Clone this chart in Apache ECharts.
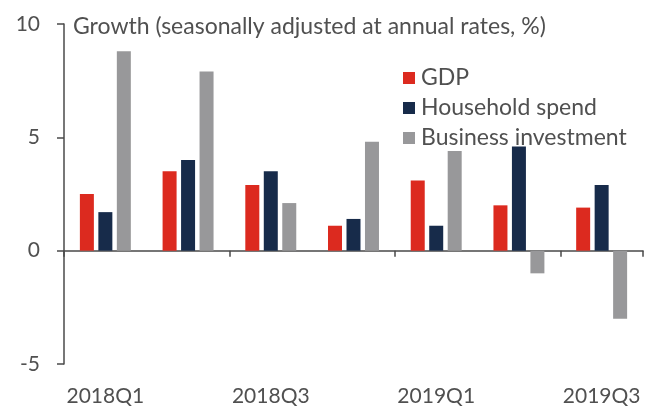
<!DOCTYPE html>
<html><head><meta charset="utf-8">
<script src="https://cdn.jsdelivr.net/npm/echarts@6/dist/echarts.min.js"></script>
<style>html,body{margin:0;padding:0;background:#fff}#c{width:654px;height:407px}</style>
</head><body><div id="c"></div>
<script>
const categories = ['2018Q1','2018Q2','2018Q3','2018Q4','2019Q1','2019Q2','2019Q3'];
const gdp = [2.5, 3.5, 2.9, 1.1, 3.1, 2.0, 1.9];
const household = [1.7, 4.0, 3.5, 1.4, 1.1, 4.6, 2.9];
const business = [8.8, 7.9, 2.1, 4.8, 4.4, -1.0, -3.0];
const seriesNames = ['GDP', 'Household spend', 'Business investment'];
const titleText = 'Growth (seasonally adjusted at annual rates, %)';

const FONT = 'Lato';
const TXT = '#505050';
const AX = '#4a4a4a';
const chart = echarts.init(document.getElementById('c'), null, {renderer: 'canvas'});
chart.setOption({
  animation: false,
  textStyle: {fontFamily: FONT},
  title: {text: titleText, left: 73, top: 15, padding: 0,
    textStyle: {fontFamily: FONT, fontSize: 23, lineHeight: 23, fontWeight: 'normal', color: TXT}},
  legend: {
    orient: 'vertical', left: 403, top: 64, padding: 0, itemWidth: 12, itemHeight: 12, itemGap: 2, icon: 'rect',
    textStyle: {fontFamily: FONT, fontSize: 23, color: TXT, lineHeight: 23, padding: [0, 0, 5, 1]},
    data: seriesNames
  },
  grid: {left: 64, right: 11, top: 24, bottom: 41, containLabel: false},
  xAxis: [
    {type: 'category', data: categories, boundaryGap: true,
     axisLine: {onZero: true, lineStyle: {color: AX, width: 1.5}},
     axisTick: {show: true, interval: 1, length: 6, lineStyle: {color: AX, width: 1.5}},
     axisLabel: {show: false}, splitLine: {show: false}},
    {type: 'category', data: categories, position: 'bottom', boundaryGap: true,
     axisLine: {show: false, onZero: false}, axisTick: {show: false},
     axisLabel: {show: true, interval: 1, margin: 22, fontFamily: FONT, fontSize: 21, color: TXT}, splitLine: {show: false}}
  ],
  yAxis: {type: 'value', min: -5, max: 10, interval: 5,
    axisLine: {show: true, lineStyle: {color: AX, width: 1.5}},
    axisTick: {show: true, length: 7, lineStyle: {color: AX, width: 1.5}},
    axisLabel: {margin: 24, fontFamily: FONT, fontSize: 21, color: TXT},
    splitLine: {show: false}},
  series: [
    {name: seriesNames[0], type: 'bar', data: gdp, barWidth: 14, barGap: '32%', itemStyle: {color: '#dc2a1f'}},
    {name: seriesNames[1], type: 'bar', data: household, barWidth: 14, barGap: '32%', itemStyle: {color: '#172b4a'}},
    {name: seriesNames[2], type: 'bar', data: business, barWidth: 14, barGap: '32%', itemStyle: {color: '#98989a'}}
  ]
});
</script></body></html>
